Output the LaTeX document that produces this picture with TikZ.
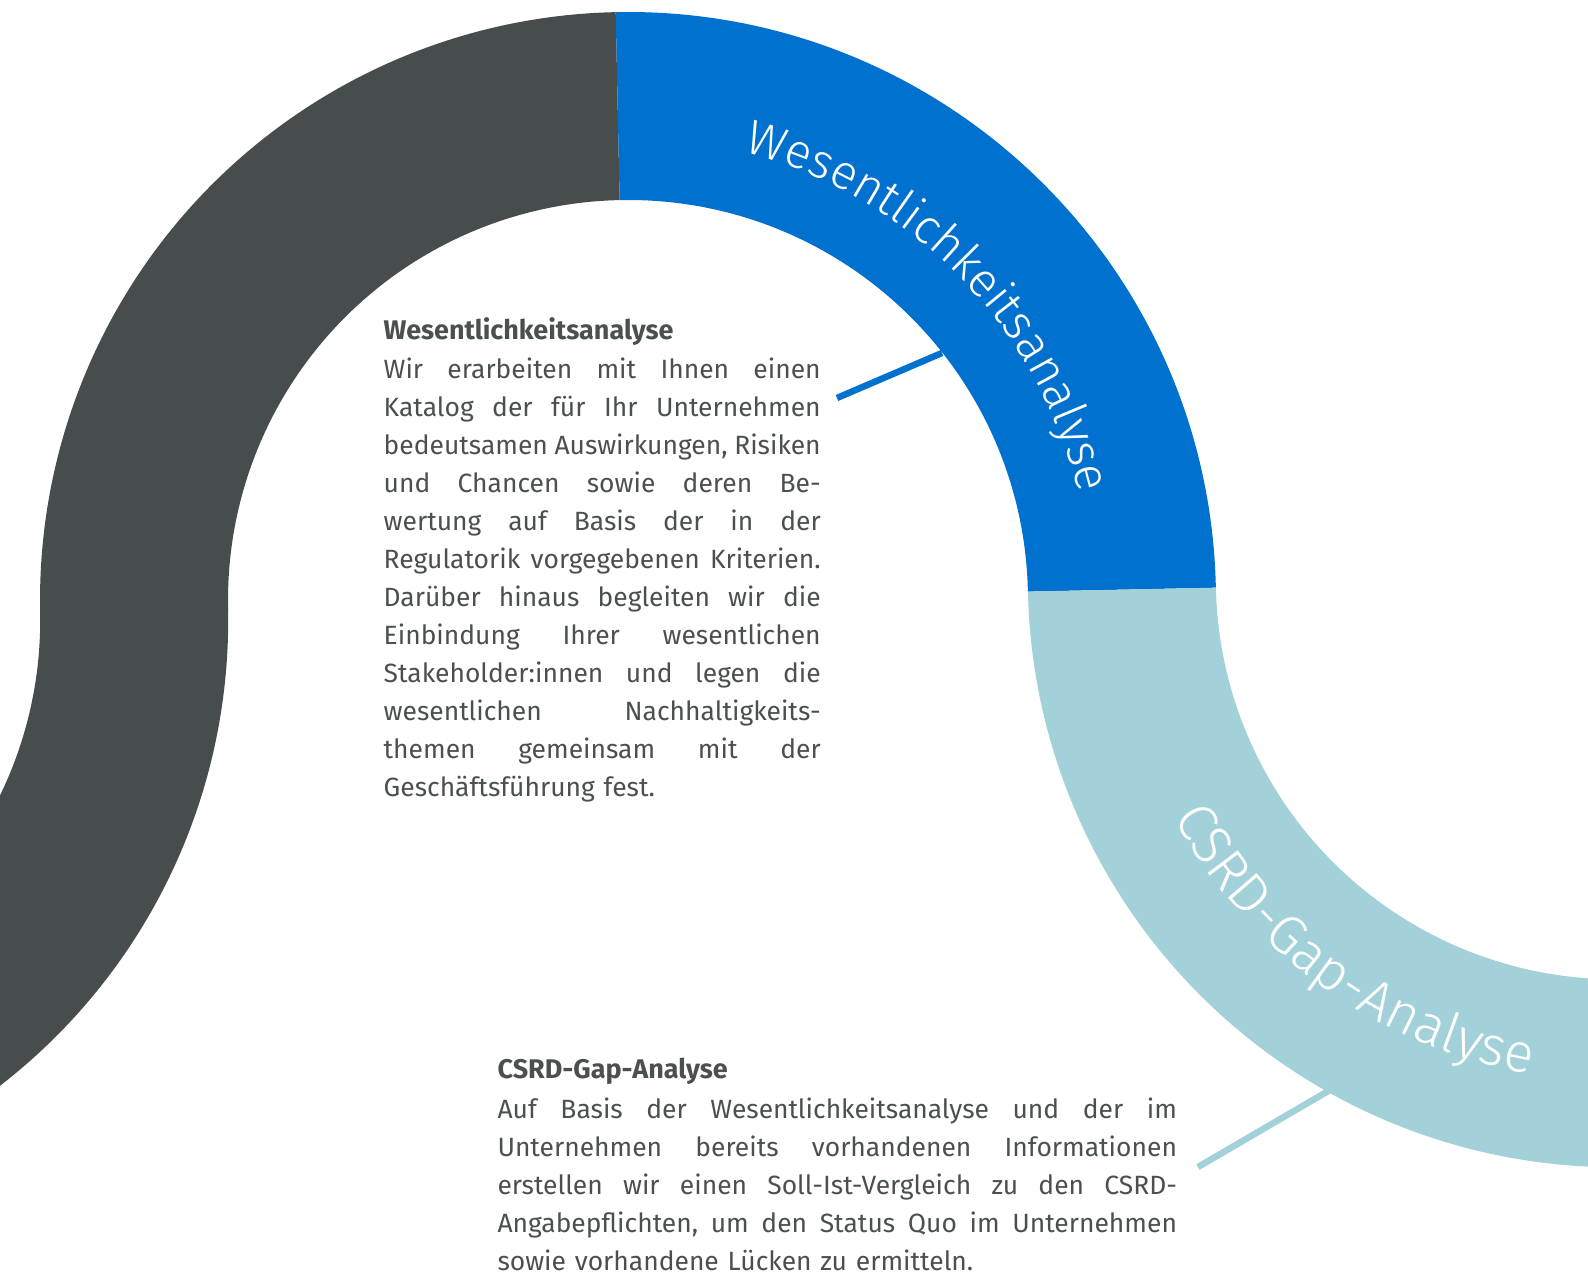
\documentclass[tikz,border=0pt]{standalone}
\usepackage{fontspec}
\usetikzlibrary{calc,decorations.text}
\IfFontExistsTF{SourceSans3-Regular.otf}
  {\newfontfamily\bodyfont{SourceSans3}[Extension=.otf,UprightFont=*-Regular,BoldFont=*-Bold]}
  {\IfFontExistsTF{SourceSansPro-Regular.otf}
    {\newfontfamily\bodyfont{SourceSansPro}[Extension=.otf,UprightFont=*-Regular,BoldFont=*-Bold]}
    {\newfontfamily\bodyfont{Fira Sans}}}
\IfFontExistsTF{Fira Sans Book}
  {\newfontfamily\curvefont{Fira Sans Book}}
  {\IfFontExistsTF{Fira Sans Light}
    {\newfontfamily\curvefont{Fira Sans Light}}
    {\newfontfamily\curvefont{Fira Sans}}}
\definecolor{ringgray}{HTML}{474D4D}
\definecolor{txtgray}{HTML}{4A5050}
\definecolor{ringblue}{HTML}{0071CE}
\definecolor{ringlight}{HTML}{A3D1D9}
\newlength\calw
\ExplSyntaxOn
\seq_new:N \l_my_words_seq
\NewDocumentCommand\fullline{mm}
  {
    \seq_set_split:Nnn \l_my_words_seq {~} {#2}
    \noindent\hbox~to~#1{\seq_use:Nn \l_my_words_seq {\hskip~0pt~plus~1fil\relax}}\par
  }
\ExplSyntaxOff
\newcommand\lastline[1]{\noindent #1\par}
\newcommand\calib[4]{% #1 macro, #2 font, #3 target width, #4 text
  \setbox0=\hbox{#2\fontsize{20pt}{20pt}\selectfont #4}%
  \calw=\wd0
  \ifdim\calw<1pt \calw=200pt \fi
  \pgfmathsetmacro#1{20*#3/\calw}}
\tikzset{
  heading/.style={anchor=base west, inner sep=0pt, text=txtgray},
  bodytext/.style={anchor=base west, inner sep=0pt, text=txtgray},
  connector/.style={line width=6.5pt}
}
\begin{document}
\calib{\fsA}{\bodyfont}{268}{Geschäftsführung fest.}%
\calib{\fsB}{\bodyfont}{462}{sowie vorhandene Lücken zu ermitteln.}%
\pgfmathsetmacro\fs{(\fsA+\fsB)/2}%
\calib{\hsA}{\bodyfont\bfseries}{285}{Wesentlichkeitsanalyse}%
\calib{\hsB}{\bodyfont\bfseries}{234}{CSRD-Gap-Analyse}%
\pgfmathsetmacro\hs{(\hsA+\hsB)/2}%
\calib{\csA}{\curvefont}{500}{Wesentlichkeitsanalyse}%
\calib{\csB}{\curvefont}{452}{CSRD-Gap-Analyse}%
\begin{tikzpicture}[x=1pt,y=1pt]
\fill[white] (0,0) rectangle (1588,1275);
\useasboundingbox (0,0) rectangle (1588,1275);
\clip (0,0) rectangle (1588,1275);

\coordinate (C1) at (628,675);
\coordinate (C2) at (-359.8,654.3);
\coordinate (C3) at (1615.8,695.7);

% upper gray arc
\fill[ringgray] ($(C1)+(91.2:588pt)$) arc[start angle=91.2, end angle=181.4, radius=588pt]
  -- ($(C1)+(181.4:400pt)$) arc[start angle=181.4, end angle=91.2, radius=400pt] -- cycle;
% blue arc
\fill[ringblue] ($(C1)+(1.2:588pt)$) arc[start angle=1.2, end angle=91.2, radius=588pt]
  -- ($(C1)+(91.2:400pt)$) arc[start angle=91.2, end angle=1.2, radius=400pt] -- cycle;
% lower gray arc
\fill[ringgray] ($(C2)+(1.2:400pt)$) arc[start angle=1.2, end angle=-90, radius=400pt]
  -- ($(C2)+(-90:588pt)$) arc[start angle=-90, end angle=1.2, radius=588pt] -- cycle;
% light blue arc
\fill[ringlight] ($(C3)+(181.2:588pt)$) arc[start angle=181.2, end angle=290, radius=588pt]
  -- ($(C3)+(290:400pt)$) arc[start angle=290, end angle=181.2, radius=400pt] -- cycle;

% curved labels
\path[decorate, decoration={text along path, text align=center,
  text={|\curvefont\fontsize{\csA}{\csA}\selectfont\color{white}|Wesentlichkeitsanalyse}}]
  ($(C1)+(104.4:463pt)$) arc[start angle=104.4, end angle=-15.6, radius=463pt];
\path[decorate, decoration={text along path, text align=center,
  text={|\curvefont\fontsize{\csB}{\csB}\selectfont\color{white}|CSRD-Gap-Analyse}}]
  ($(C3)+(194.2:502pt)$) arc[start angle=194.2, end angle=274.2, radius=502pt];

% connectors
\coordinate (a1) at (837,877);
\coordinate (a2) at (942,922);
\draw[connector, ringblue] (a1) -- (a2);
\coordinate (b1) at (1198,108);
\coordinate (b2) at (1330,185);
\draw[connector, ringlight] (b1) -- (b2);

% text block 1
\node[heading, font=\bodyfont\bfseries\fontsize{\hs}{\hs}\selectfont] (h1) at (383.5,935) {Wesentlichkeitsanalyse};
\node[bodytext, text width=437pt, font=\bodyfont\fontsize{\fs}{38}\selectfont] (p1) at (383.5,896) {%
\fullline{437pt}{Wir erarbeiten mit Ihnen einen}
\fullline{437pt}{Katalog der für Ihr Unternehmen}
\fullline{437pt}{bedeutsamen Auswirkungen, Risiken}
\fullline{437pt}{und Chancen sowie deren Be-}
\fullline{437pt}{wertung auf Basis der in der}
\fullline{437pt}{Regulatorik vorgegebenen Kriterien.}
\fullline{437pt}{Darüber hinaus begleiten wir die}
\fullline{437pt}{Einbindung Ihrer wesentlichen}
\fullline{437pt}{Stakeholder:innen und legen die}
\fullline{437pt}{wesentlichen Nachhaltigkeits-}
\fullline{437pt}{themen gemeinsam mit der}
\lastline{Geschäftsführung fest.}};

% text block 2
\node[heading, font=\bodyfont\bfseries\fontsize{\hs}{\hs}\selectfont] (h2) at (497.3,196) {CSRD-Gap-Analyse};
\node[bodytext, text width=679.5pt, font=\bodyfont\fontsize{\fs}{38}\selectfont] (p2) at (497.3,156) {%
\fullline{679.5pt}{Auf Basis der Wesentlichkeitsanalyse und der im}
\fullline{679.5pt}{Unternehmen bereits vorhandenen Informationen}
\fullline{679.5pt}{erstellen wir einen Soll-Ist-Vergleich zu den CSRD-}
\fullline{679.5pt}{Angabepflichten, um den Status Quo im Unternehmen}
\lastline{sowie vorhandene Lücken zu ermitteln.}};
\end{tikzpicture}
\end{document}
